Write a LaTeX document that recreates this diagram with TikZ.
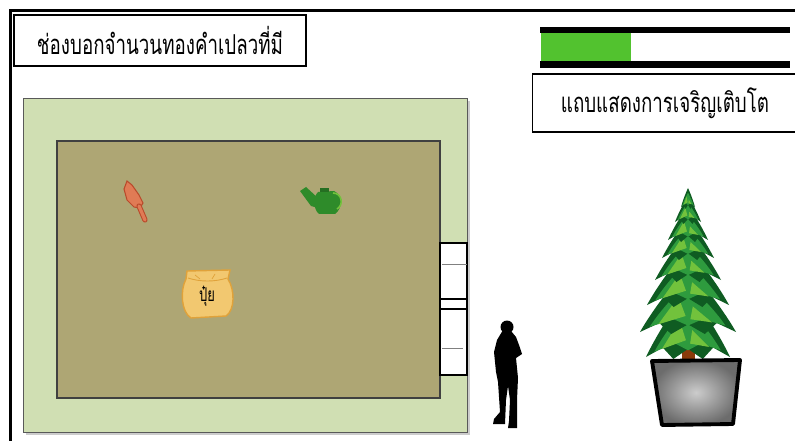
\documentclass[tikz,border=0pt]{standalone}
\usepackage{fontspec}
\newfontfamily\thaifont[Script=Thai]{Loma}
\definecolor{pelouse}{HTML}{D0DFB3}
\definecolor{terre}{HTML}{AEA674}
\definecolor{barre}{HTML}{52C22F}
\definecolor{sac}{HTML}{F2C870}
\definecolor{sacbord}{HTML}{E0A23A}
\definecolor{pelle}{HTML}{E07B55}
\definecolor{pellebord}{HTML}{B94A2B}
\definecolor{arrosoir}{HTML}{2E8B2A}
\definecolor{sapinfonce}{HTML}{0F5C22}
\definecolor{sapin}{HTML}{2E9B3E}
\definecolor{sapinclair}{HTML}{72C23C}
\definecolor{tronc}{HTML}{8B3A0A}
\newcommand{\etroit}[1]{\scalebox{0.82}[1.2]{#1}}
\begin{document}
\begin{tikzpicture}[x=0.2mm,y=-0.2mm]

\tikzset{etiquette/.style={draw,line width=1.1pt,fill=white,inner sep=0pt,font=\thaifont\fontsize{13}{15}\selectfont}} %boites de texte
\tikzset{feuillage/.style={fill=sapinfonce}}

\useasboundingbox (0,0) rectangle (795,441);
\fill[white] (0,0) rectangle (795,441);

%cadre du jeu
\draw[line width=1.7pt] (10.5,441) -- (10.5,10.5) -- (795,10.5);

%compteur d'or
\node[etiquette,minimum width=58.4mm,minimum height=10.2mm] (compteur) at (160,40.5) {\etroit{ช่องบอกจำนวนทองคำเปลวที่มี}};

%barre de croissance
\fill (540,27) rectangle (790,33);
\fill (540,61) rectangle (790,68);
\fill[barre] (541,33) rectangle (631,61);
\node[etiquette,minimum width=53mm,minimum height=11.6mm] (croissance) at (665,103) {\etroit{แถบแสดงการเจริญเติบโต}};

%jardin
\fill[gray!40] (26,101) rectangle (470,435);
\draw[fill=pelouse,draw=gray!70!black,line width=0.5pt] (23,98) rectangle (467,432);
\draw[fill=terre,draw=gray!50!black,line width=0.6pt] (57,141) rectangle (440,398);

%portail
\draw[fill=white,line width=0.6pt] (440,243) rectangle (467,375);
\draw[line width=0.6pt] (440,299) -- (467,299) (440,309) -- (467,309);
\draw[gray,line width=0.3pt] (442,264) -- (467,264) (442,348) -- (463,348);

%pelle
\draw[fill=pelle,draw=pellebord,line width=0.6pt] (127,181) -- (132,185) -- (139,195) -- (143,203) -- (140,208) -- (134,207) -- (127,200) -- (124,189) -- cycle;
\draw[pellebord,line width=3pt,line cap=round] (139,206) -- (145,220);
\draw[pelle,line width=1.8pt,line cap=round] (139,206) -- (145,220);

%arrosoir
\fill[arrosoir] (300,191) -- (306,187) -- (318,198) -- (318,208) -- (311,206) -- cycle;
\fill[arrosoir] (318,192) -- (334,191) .. controls (343,195) and (343,208) .. (335,214) -- (319,214) .. controls (313,209) and (313,197) .. (318,192) -- cycle;
\draw[sapinclair,line width=0.9pt] (333,193) .. controls (342,193) and (344,205) .. (337,209);
\fill[arrosoir!80!black] (320,188) rectangle (329,192);

%sac d'engrais
\draw[fill=sac,draw=sacbord,line width=0.8pt] (187,271) -- (230,270) -- (228,279) .. controls (235,290) and (235,310) .. (226,316) -- (191,318) .. controls (181,312) and (180,290) .. (186,279) -- cycle;
\draw[sacbord,line width=0.5pt] (188,278) .. controls (200,282) and (215,282) .. (227,278);
\draw[sacbord,line width=0.4pt] (195,275) -- (200,279) (215,274) -- (212,279);
\node[font=\thaifont\fontsize{9}{10}\selectfont] (engrais) at (207,296) {\etroit{ปุ๋ย}};

%jardinier
\fill (507,327) circle (6.5);
\fill (503,330) -- (497,340) -- (494,352) -- (496,372) -- (498,382) -- (500,412) -- (494,419) -- (493,424) -- (505,424) -- (506,400) -- (508,386) -- (510,400) -- (509,421) -- (508,428) -- (517,428) -- (517,400) -- (518,378) -- (516,358) -- (522,354) -- (519,345) -- (516,337) -- (511,331) -- cycle;

%sapin
\fill[tronc] (682,345) rectangle (695,362);
\foreach \t/\b/\h in {290/357/42,268/332/48,248/305/41,232/280/33,218/258/26,206/240/20,196/222/13,188/207/7}{
  \fill[feuillage] (688,\t) .. controls ({688-0.5*\h},{\t+0.4*(\b-\t)}) and ({688-0.85*\h},{\b-0.2*(\b-\t)}) .. ({688-\h},\b)
    -- ({688-0.6*\h},{\b-0.14*(\b-\t)}) -- ({688-0.35*\h},{\b+2}) -- (688,{\b-0.12*(\b-\t)}) -- ({688+0.35*\h},{\b+2})
    -- ({688+0.6*\h},{\b-0.14*(\b-\t)}) -- ({688+\h},\b) .. controls ({688+0.85*\h},{\b-0.2*(\b-\t)}) and ({688+0.5*\h},{\t+0.4*(\b-\t)}) .. (688,\t) -- cycle;
  \fill[sapin] (688,{\t+0.25*(\b-\t)}) .. controls ({688-0.4*\h},{\t+0.5*(\b-\t)}) and ({688-0.65*\h},{\b-0.25*(\b-\t)}) .. ({688-0.8*\h},{\b-0.08*(\b-\t)})
    -- ({688-0.3*\h},{\b-0.2*(\b-\t)}) -- (688,{\b-0.1*(\b-\t)}) -- ({688+0.3*\h},{\b-0.2*(\b-\t)}) -- ({688+0.78*\h},{\b-0.1*(\b-\t)})
    .. controls ({688+0.6*\h},{\b-0.3*(\b-\t)}) and ({688+0.35*\h},{\t+0.5*(\b-\t)}) .. (688,{\t+0.25*(\b-\t)}) -- cycle;
  \fill[sapinclair] ({688-0.2*\h},{\t+0.45*(\b-\t)}) -- ({688-0.62*\h},{\b-0.12*(\b-\t)}) -- ({688-0.05*\h},{\b-0.25*(\b-\t)}) -- cycle;
  \fill[sapinclair] ({688+0.1*\h},{\t+0.6*(\b-\t)}) -- ({688+0.5*\h},{\b-0.15*(\b-\t)}) -- ({688+0.05*\h},{\b-0.2*(\b-\t)}) -- cycle;
}

%pot
\draw[line width=2.2pt,line join=round,inner color=gray!40,outer color=gray!85!black] (652,361) -- (740,360) -- (733,424) -- (662,425) -- cycle;

\end{tikzpicture}
\end{document}
